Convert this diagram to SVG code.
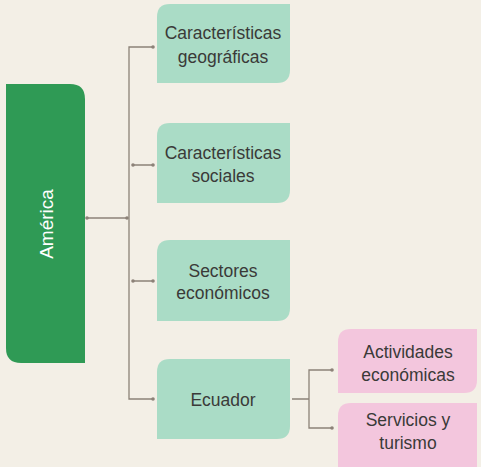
<svg xmlns="http://www.w3.org/2000/svg" width="481" height="467" viewBox="0 0 481 467">
<style>
.t{font-family:"Liberation Sans",Arial,sans-serif;font-size:17.5px;fill:#3a3a38;text-anchor:middle}
.g{fill:#aadcc6}
.p{fill:#f3c6dd}
.c{stroke:#8c8278;stroke-width:1.3;fill:none}
.d{fill:#8c8278}
</style>
<rect width="481" height="467" fill="#f3efe6"/>
<g id="connectors">
<path class="c" d="M153 47H129V399H153"/>
<path class="c" d="M87 218H127"/>
<path class="c" d="M133 165H153M133 281H153"/>
<path class="c" d="M292 399H309M332 370H309V428H332"/>
<g class="d">
<circle cx="87" cy="218" r="1.8"/><circle cx="127" cy="218" r="1.8"/>
<circle cx="153" cy="47" r="1.8"/>
<circle cx="133" cy="165" r="1.8"/><circle cx="153" cy="165" r="1.8"/>
<circle cx="133" cy="281" r="1.8"/><circle cx="153" cy="281" r="1.8"/>
<circle cx="153" cy="399" r="1.8"/>
<circle cx="332" cy="370" r="1.8"/><circle cx="332" cy="428" r="1.8"/>
</g>
</g>
<g id="america">
<path d="M6 84H70Q85 84 85 99V363H21Q6 363 6 348Z" fill="#2f9a55"/>
<text transform="translate(53 224) rotate(-90)" style="font-family:'Liberation Sans',Arial,sans-serif;font-size:19px;fill:#ffffff;text-anchor:middle">América</text>
</g>
<g id="geograficas">
<path class="g" d="M170 4H290V70Q290 83 277 83H157V17Q157 4 170 4Z"/>
<text class="t" x="223" y="39">Características</text>
<text class="t" x="223" y="63">geográficas</text>
</g>
<g id="sociales">
<path class="g" d="M170 123H290V190Q290 203 277 203H157V136Q157 123 170 123Z"/>
<text class="t" x="223" y="159">Características</text>
<text class="t" x="223" y="182">sociales</text>
</g>
<g id="sectores">
<path class="g" d="M170 240H290V308Q290 321 277 321H157V253Q157 240 170 240Z"/>
<text class="t" x="223" y="277">Sectores</text>
<text class="t" x="223" y="299">económicos</text>
</g>
<g id="ecuador">
<path class="g" d="M170 359H290V426Q290 439 277 439H157V372Q157 359 170 359Z"/>
<text class="t" x="223" y="406">Ecuador</text>
</g>
<g id="actividades">
<path class="p" d="M351 329H477V380Q477 393 464 393H338V342Q338 329 351 329Z"/>
<text class="t" x="408" y="358">Actividades</text>
<text class="t" x="408" y="381">económicas</text>
</g>
<g id="servicios">
<path class="p" d="M351 403H477V467H338V416Q338 403 351 403Z"/>
<text class="t" x="408" y="426">Servicios y</text>
<text class="t" x="408" y="449">turismo</text>
</g>
</svg>
